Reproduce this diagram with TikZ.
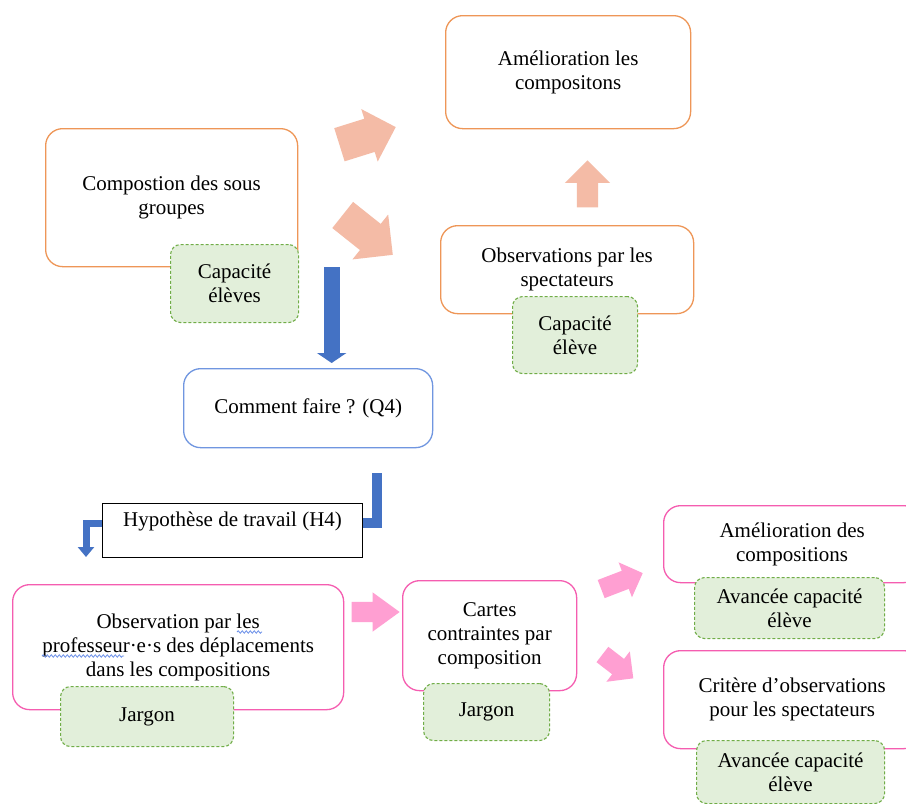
\documentclass[tikz,border=0pt]{standalone}
\usepackage{fontspec}
\setmainfont{Liberation Serif}
\usetikzlibrary{shapes.arrows,arrows.meta,decorations.pathmorphing}
\definecolor{orangeb}{HTML}{EE9657}
\definecolor{salmon}{HTML}{F4BBA6}
\definecolor{blueA}{HTML}{4472C4}
\definecolor{blueB}{HTML}{7096E0}
\definecolor{pinkb}{HTML}{F55DB0}
\definecolor{pinka}{HTML}{FF9FD2}
\definecolor{greenf}{HTML}{E2EFDA}
\definecolor{greenb}{HTML}{70AD47}
\definecolor{spell}{HTML}{6A8FE8}
\newcommand\dfont{\fontsize{21}{24}\selectfont}
\begin{document}
\begin{tikzpicture}[x=1pt,y=-1pt,
  box/.style={draw, rounded corners=17, line width=1.3, fill=white, align=center, inner sep=0, font=\dfont, anchor=north west},
  gbox/.style={draw=greenb, dash pattern=on 3pt off 2pt, fill=greenf, rounded corners=10, line width=1.1, align=center, inner sep=0, font=\dfont, anchor=north west},
  blockarrow/.style={single arrow, draw=none, inner xsep=0, anchor=tip},
  squiggle/.style={spell, line width=0.8, decorate, decoration={snake, amplitude=1.2pt, segment length=4pt}}
]
\useasboundingbox[fill=white] (0,0) rectangle (906,804);

% top part
\node[box, draw=orangeb, minimum width=252, minimum height=138] (comp) at (45,128) {Compostion des sous\\groupes};
\node[gbox, minimum width=128, minimum height=78] (gcomp) at (170,244) {Capacité\\élèves};
\node[box, draw=orangeb, minimum width=245, minimum height=113] (amel1) at (445,15) {Amélioration les\\compositons};
\node[box, draw=orangeb, minimum width=253, minimum height=88] (obs) at (440,225) {Observations par les\\spectateurs};
\node[gbox, minimum width=125, minimum height=77] (gobs) at (512,296) {Capacité\\élève};

\node[blockarrow, fill=salmon, minimum height=59, minimum width=55, inner ysep=17, single arrow head extend=10, rotate=17.4] (sa1) at (396,127) {};
\node[blockarrow, fill=salmon, minimum height=64, minimum width=57, inner ysep=16.5, single arrow head extend=12, rotate=-38.5] (sa2) at (393,255) {};
\node[blockarrow, fill=salmon, minimum height=47, minimum width=45, inner ysep=10.5, single arrow head extend=12, rotate=90] (sa3) at (587.5,160) {};

% middle
\node[box, draw=blueB, minimum width=249, minimum height=79] (q4) at (183,368) {Comment faire ? (Q4)};
\node[draw=black, line width=1.1, fill=white, inner sep=0, font=\dfont, anchor=north west, minimum width=260, minimum height=54, text height=14, text depth=22] (h4) at (102,503) {Hypothèse de travail (H4)};

\draw[blueA, line width=16, -{Triangle[width=29,length=10]}] ([xshift=160pt]comp.south) -- ([xshift=23.5pt,yshift=5pt]q4.north);
\coordinate (e1) at (377,473);
\draw[blueA, line width=10] (e1) |- ([yshift=7.5pt]h4.east);
\coordinate (e2) at (86,557);
\draw[blueA, line width=7, -{Triangle[width=16,length=10]}] ([yshift=7pt]h4.west) -| (e2);

% bottom
\node[box, draw=pinkb, minimum width=331, minimum height=125] (prof) at (12,584) {Observation par les\\professeur·e·s des déplacements\\dans les compositions};
\node[gbox, minimum width=173, minimum height=60] (gprof) at (60,686) {Jargon};
\node[box, draw=pinkb, minimum width=174, minimum height=110] (cartes) at (402,580) {Cartes\\contraintes par\\composition};
\node[gbox, minimum width=126, minimum height=57] (gcartes) at (423,683) {Jargon};
\node[box, draw=pinkb, minimum width=257, minimum height=77] (amel2) at (663,505) {Amélioration des\\compositions};
\node[gbox, minimum width=190, minimum height=61] (gamel2) at (694,577) {Avancée capacité\\élève};
\node[box, draw=pinkb, minimum width=257, minimum height=98] (crit) at (663,650) {Critère d’observations\\pour les spectateurs};
\node[gbox, minimum width=188, minimum height=63] (gcrit) at (696,740) {Avancée capacité\\élève};

\coordinate (s1a) at (237,632); \coordinate (s1b) at (262,632);
\coordinate (s2a) at (42,656); \coordinate (s2b) at (124,656);
\draw[squiggle] (s1a) -- (s1b);
\draw[squiggle] (s2a) -- (s2b);

\node[blockarrow, fill=pinka, minimum height=48, minimum width=39, inner ysep=10, single arrow head extend=9.5, single arrow tip angle=72] (pa1) at (400,612) {};
\node[blockarrow, fill=pinka, minimum height=44.5, minimum width=37, inner ysep=9.5, single arrow head extend=9, rotate=21] (pa2) at (643,573) {};
\node[blockarrow, fill=pinka, minimum height=39, minimum width=38, inner ysep=9.5, single arrow head extend=9.5, rotate=-37.7] (pa3) at (633.5,678.5) {};
\end{tikzpicture}
\end{document}
